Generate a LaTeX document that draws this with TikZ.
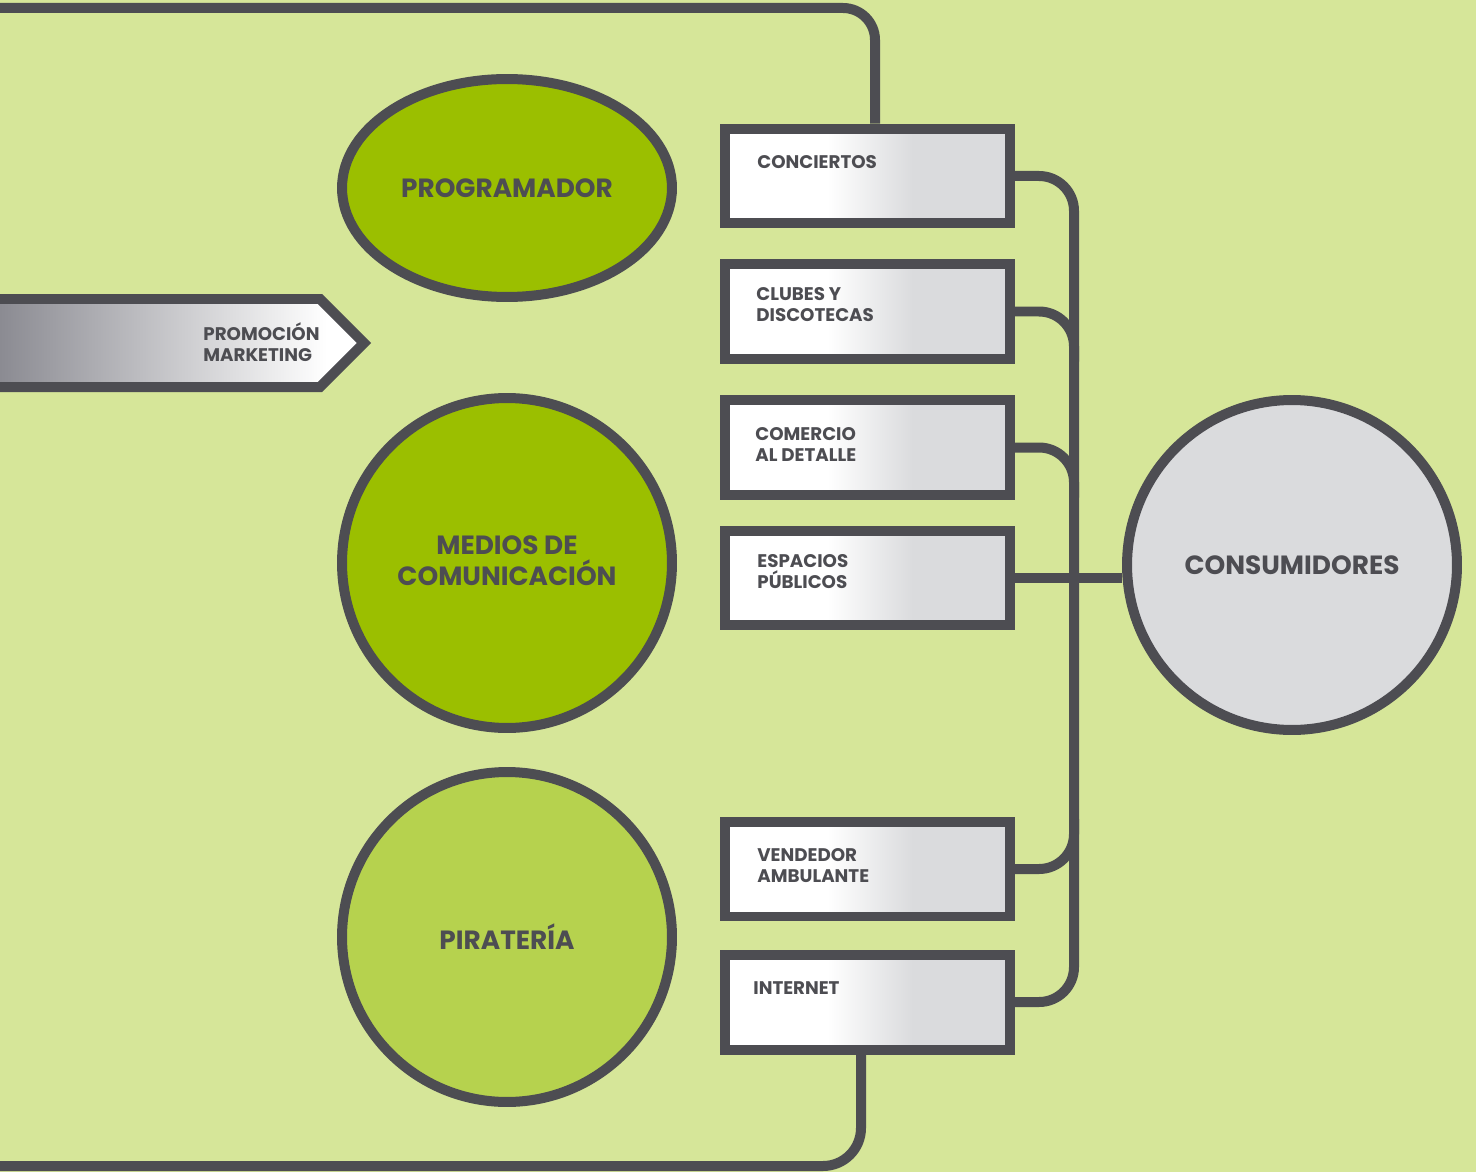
\documentclass[tikz,border=0pt]{standalone}
\usepackage{fontspec}
\setmainfont{Poppins}
\usetikzlibrary{shapes.geometric}
\definecolor{fondo}{RGB}{214,230,153}
\definecolor{verde}{RGB}{155,191,0}
\definecolor{verdeclaro}{RGB}{182,210,78}
\definecolor{gris}{RGB}{218,219,221}
\definecolor{linea}{RGB}{77,77,82}
\definecolor{grisoscuro}{RGB}{138,138,145}
\pgfdeclarehorizontalshading{canal}{100bp}{color(0bp)=(white); color(43bp)=(white); color(58bp)=(gris); color(100bp)=(gris)}
\pgfdeclarehorizontalshading{promo}{100bp}{color(0bp)=(grisoscuro); color(26bp)=(grisoscuro); color(70bp)=(white); color(100bp)=(white)}
\begin{document}
\begin{tikzpicture}[x=0.02cm, y=-0.02cm,
        every node/.style={text=linea, font=\bfseries},
        canalbox/.style={rectangle, draw=linea, line width=0.2cm, shading=canal, minimum width=5.7cm, minimum height=1.9cm, inner sep=0pt},
        canaltexto/.style={anchor=base west, inner sep=0pt, align=left, font=\bfseries\fontsize{10.4}{11.9}\selectfont},
        actor/.style={draw=linea, line width=0.2cm, inner sep=0pt, align=center, font=\bfseries\fontsize{15}{15.6}\selectfont},
        conector/.style={draw=linea, line width=0.2cm},
        flecha/.style={draw=linea, line width=0.2cm, shading=promo, line join=miter}
    ]
        \fill[fondo] (0,0) rectangle (1476,1172);
        \useasboundingbox (0,0) rectangle (1476,1172);

        % Canales
        \node[canalbox] (conc) at (867.5,176) {};
        \node[canalbox] (clu) at (867.5,311.5) {};
        \node[canalbox] (com) at (867.5,447.5) {};
        \node[canalbox] (esp) at (867.5,578) {};
        \node[canalbox] (ven) at (867.5,869) {};
        \node[canalbox] (int) at (867.5,1002) {};
        \node[canaltexto] at ([shift={(37,45)}]conc.north west) {CONCIERTOS};
        \node[canaltexto] at ([shift={(36,62)}]clu.north west) {CLUBES Y\\DISCOTECAS};
        \node[canaltexto] at ([shift={(35,66)}]com.north west) {COMERCIO\\AL DETALLE};
        \node[canaltexto] at ([shift={(37,63)}]esp.north west) {ESPACIOS\\PÚBLICOS};
        \node[canaltexto] at ([shift={(37,66)}]ven.north west) {VENDEDOR\\AMBULANTE};
        \node[canaltexto] at ([shift={(33,45)}]int.north west) {INTERNET};

        % Actores
        \node[actor, ellipse, fill=verde, minimum width=6.6cm, minimum height=4.36cm] (prog) at (507,188) {PROGRAMADOR};
        \node[actor, circle, fill=verde, minimum size=6.6cm] (medios) at (507,563) {\raisebox{0.08cm}{\shortstack{MEDIOS DE\\COMUNICACIÓN}}};
        \node[actor, circle, fill=verdeclaro, minimum size=6.6cm] (pirat) at (507,937) {PIRATERÍA};
        \node[actor, circle, fill=gris, minimum size=6.6cm] (cons) at (1292,565) {CONSUMIDORES};

        % Promoción
        \draw[flecha] (-10,299) -- (320,299) -- (364,343) -- (320,387) -- (-10,387) -- cycle;
        \node[canaltexto] (promotexto) at (203,361) {PROMOCIÓN\\MARKETING};

        % Marco
        \coordinate (bordesup) at (-10,8);
        \coordinate (esqsup) at (875,8);
        \coordinate (bordeinf) at (-10,1166);
        \coordinate (esqinf) at (861,1166);
        \draw[conector, rounded corners=0.64cm] (bordesup) -- (esqsup) -- (esqsup |- conc.north);
        \draw[conector, rounded corners=0.76cm] (int.south -| esqinf) -- (esqinf) -- (bordeinf);

        % Conexiones a consumidores
        \coordinate (tronco) at (1074,0);
        \draw[conector, rounded corners=0.7cm] (conc.east) -- (conc.east -| tronco) -- (int.east -| tronco) -- (int.east);
        \draw[conector, rounded corners=0.7cm] (clu.east) -- (clu.east -| tronco) -- ++(0,50);
        \draw[conector, rounded corners=0.7cm] (com.east) -- (com.east -| tronco) -- ++(0,50);
        \draw[conector, rounded corners=0.7cm] (ven.east) -- (ven.east -| tronco) -- ++(0,-50);
        \draw[conector] (esp.east) -- (esp.east -| cons.west);
    \end{tikzpicture}
\end{document}
